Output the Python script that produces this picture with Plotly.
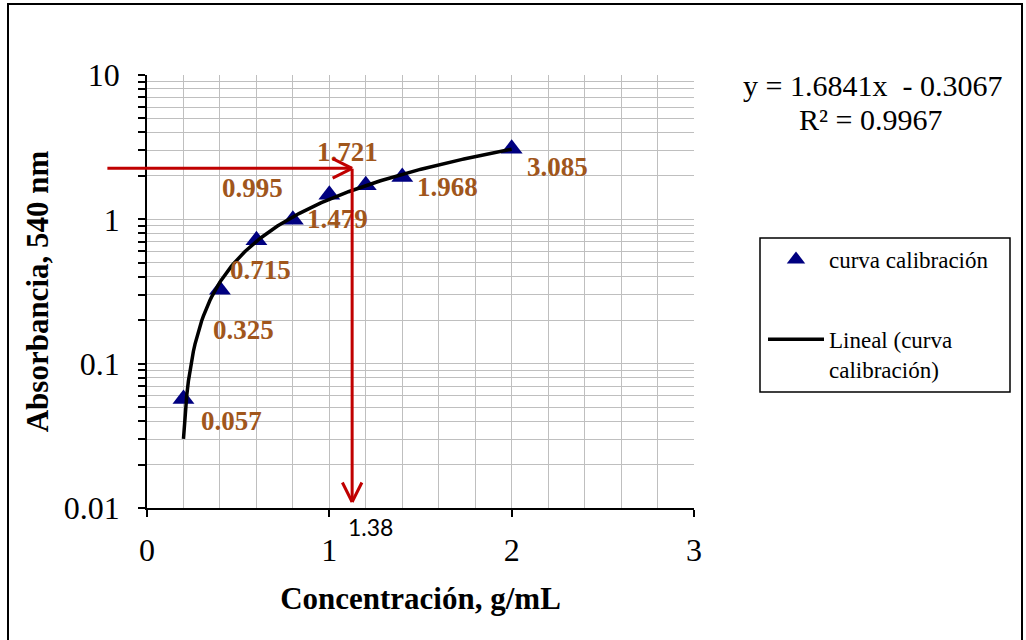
import numpy as np
import plotly.graph_objects as go

# Calibration data: concentration (g/mL) vs absorbance at 540 nm
conc = [0.2, 0.4, 0.6, 0.8, 1.0, 1.2, 1.4, 2.0]
absorb = [0.057, 0.325, 0.715, 0.995, 1.479, 1.721, 1.968, 3.085]
point_labels = ["0.057", "0.325", "0.715", "0.995", "1.479", "1.721", "1.968", "3.085"]

# Reading taken from the curve (red guide arrows)
reading_x = 1.125
reading_y = 2.256
reading_label = "1.38"
guide_start_x = -0.22
guide_end_y = 0.011

x_ticks = [0, 1, 2, 3]
y_ticks = [0.01, 0.1, 1, 10]
y_tick_text = ["0.01", "0.1", "1", "10"]

equation_text = "y = 1.6841x  - 0.3067"
r2_text = "R² = 0.9967"

# label offsets in pixels (right, down) for each data label
label_dx = [48, 24, 4, -40, 8, -18, 45, 46]
label_dy = [22, 40, 30, -32, 24, -33, 10, 18]

SERIF = "Liberation Serif"
W, H = 1026, 640
ML, MR, MT, MB = 147, 332, 75, 132
PW, PH = W - ML - MR, H - MT - MB


def px(xp):
    return (xp - ML) / PW


def py(yp):
    return (H - MB - yp) / PH


# linear least-squares trend line
slope, intercept = np.polyfit(conc, absorb, 1)
fit_x = np.linspace(min(conc), max(conc), 200)
fit_y = slope * fit_x + intercept

fig = go.Figure()
fig.add_trace(go.Scatter(
    x=conc, y=absorb, mode="markers", name="curva calibración",
    marker=dict(symbol="triangle-up", size=19, color="#000080"),
    legendgroup="a",
))
fig.add_trace(go.Scatter(
    x=fit_x, y=fit_y, mode="lines", name="Lineal (curva<br>calibración)",
    line=dict(color="black", width=3.5),
    legendgroup="b",
))

annotations = []
label_color = "#a0561c"
for xv, yv, t, dx, dy in zip(conc, absorb, point_labels, label_dx, label_dy):
    annotations.append(dict(
        x=xv, y=np.log10(yv), xref="x", yref="y", text=t, showarrow=False,
        xshift=dx, yshift=-dy,
        font=dict(family=SERIF, size=27, color=label_color, weight="bold"),
    ))

red = "#c00000"
arrow_w = 3
# horizontal guide
annotations.append(dict(
    x=reading_x, y=np.log10(reading_y), ax=guide_start_x, ay=np.log10(reading_y),
    xref="x", yref="y", axref="x", ayref="y", text="", showarrow=True,
    arrowhead=0, arrowwidth=arrow_w, arrowcolor=red, font=dict(size=1),
    borderpad=0, standoff=0,
))
# vertical guide
annotations.append(dict(
    x=reading_x, y=np.log10(guide_end_y), ax=reading_x, ay=np.log10(reading_y),
    xref="x", yref="y", axref="x", ayref="y", text="", showarrow=True,
    arrowhead=0, arrowwidth=arrow_w, arrowcolor=red, font=dict(size=1),
    borderpad=0, standoff=0,
))
# open arrow heads
for tip_y, arms in [(reading_y, [(-20, -10), (-20, 10)]),
                    (guide_end_y, [(-10, -20), (10, -20)])]:
    for ax_, ay_ in arms:
        annotations.append(dict(
            x=reading_x, y=np.log10(tip_y), xref="x", yref="y",
            ax=ax_, ay=ay_, text="", showarrow=True, arrowhead=0,
            arrowwidth=arrow_w, arrowcolor=red, font=dict(size=1),
            borderpad=0, standoff=0,
        ))

# reading value below the axis
annotations.append(dict(
    x=reading_x, y=0, xref="x", yref="paper", text=reading_label,
    showarrow=False, xshift=18, yshift=-35,
    font=dict(family="Lato", size=23, color="black"),
))

# trend line equation
annotations.append(dict(
    x=px(872), y=py(86), xref="paper", yref="paper", text=equation_text,
    showarrow=False, xanchor="center", yanchor="middle",
    font=dict(family=SERIF, size=30, color="black"),
))
annotations.append(dict(
    x=px(870), y=py(119), xref="paper", yref="paper", text=r2_text,
    showarrow=False, xanchor="center", yanchor="middle",
    font=dict(family=SERIF, size=30, color="black"),
))

grid = "#bfbfbf"
fig.update_layout(
    width=W, height=H, autosize=False,
    margin=dict(l=ML, r=MR, t=MT, b=MB),
    paper_bgcolor="white", plot_bgcolor="white",
    showlegend=True,
    legend=dict(
        x=px(763), y=py(238), xanchor="left", yanchor="top",
        borderwidth=0, bgcolor="rgba(0,0,0,0)",
        font=dict(family=SERIF, size=23, color="black"),
        tracegroupgap=47, valign="top", traceorder="grouped",
        itemwidth=56,
    ),
    annotations=annotations,
    shapes=[
        # chart frame
        dict(type="rect", xref="paper", yref="paper",
             x0=px(8), x1=px(1022), y0=py(H + 5), y1=py(4),
             line=dict(color="black", width=2), layer="below"),
        # legend box
        dict(type="rect", xref="paper", yref="paper",
             x0=px(760), x1=px(1010), y0=py(392), y1=py(238),
             line=dict(color="black", width=1.5), layer="below"),
    ],
    xaxis=dict(
        range=[0, 3], tickvals=x_ticks, ticks="outside", ticklen=7,
        tickcolor="black", tickwidth=1.5,
        showline=True, linecolor="black", linewidth=1.5,
        showgrid=True, gridcolor=grid, gridwidth=1,
        minor=dict(dtick=0.2, showgrid=True, gridcolor=grid, gridwidth=1),
        tickfont=dict(family=SERIF, size=32, color="black"),
        ticklabelstandoff=6,
        title=dict(text="Concentración, g/mL", standoff=20,
                   font=dict(family=SERIF, size=31, color="black", weight="bold")),
        zeroline=False,
    ),
    yaxis=dict(
        type="log", range=[-2, 1], tickvals=y_ticks, ticktext=y_tick_text,
        ticks="outside", ticklen=7, tickcolor="black", tickwidth=1.5,
        showline=True, linecolor="black", linewidth=1.5,
        showgrid=True, gridcolor=grid, gridwidth=1,
        minor=dict(dtick="D1", ticks="outside", ticklen=7, tickcolor="black",
                   showgrid=True, gridcolor=grid, gridwidth=1),
        tickfont=dict(family=SERIF, size=32, color="black"),
        ticklabelstandoff=12,
        title=dict(text="Absorbancia, 540 nm", standoff=6,
                   font=dict(family=SERIF, size=31, color="black", weight="bold")),
        zeroline=False,
    ),
)

fig.write_html("out.html")
